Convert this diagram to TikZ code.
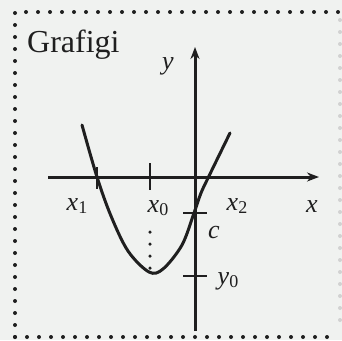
\documentclass[tikz,border=0pt]{standalone}
\usepackage{fontspec}
\setmainfont{Liberation Serif}
\usetikzlibrary{arrows.meta}
\definecolor{ink}{rgb}{0.12,0.12,0.12}
\definecolor{paper}{rgb}{0.94,0.95,0.94}
\newcommand{\sublab}[2]{\textit{#1}\raisebox{-3pt}{\fontsize{18}{18}\selectfont #2}}
\begin{document}
\begin{tikzpicture}[x=1pt,y=-1pt,
  framedots/.style={draw=ink,line width=4pt,line cap=round,dash pattern=on 0pt off 12pt},
  axis/.style={draw=ink,line width=3pt,-{Stealth[length=12pt,width=9pt]}},
  tickmark/.style={draw=ink,line width=2.4pt},
  curve/.style={draw=ink,line width=3pt,line cap=round},
  lab/.style={text=ink,inner sep=0pt,font=\fontsize{26}{26}\selectfont}]
\fill[paper] (0,0) rectangle (342,340);
\useasboundingbox (0,0) rectangle (342,340);
% frame
\draw[framedots] (15,337) -- (15,12) -- (338,12);
\draw[framedots] (15,337) -- (338,337);
\draw[framedots,draw=ink!20] (340,20) -- (340,330);
% title
\node[lab,font=\fontsize{32}{32}\selectfont,anchor=west] (title) at (27,45) {Grafigi};
% axes
\coordinate (xs) at (48,177);
\coordinate (xe) at (319,177);
\coordinate (ys) at (195,331);
\coordinate (ye) at (195,47);
\draw[axis] (xs) -- (xe);
\draw[axis] (ys) -- (ye);
\node[lab] (ylab) at (168,66) {\textit{y}};
\node[lab] (xlab) at (312,207) {\textit{x}};
% ticks
\coordinate (t1a) at (97,167); \coordinate (t1b) at (97,189);
\coordinate (t0a) at (150,163); \coordinate (t0b) at (150,190);
\coordinate (tca) at (183,213); \coordinate (tcb) at (207,213);
\coordinate (tya) at (183,276); \coordinate (tyb) at (207,276);
\draw[tickmark] (t1a) -- (t1b);
\draw[tickmark] (t0a) -- (t0b);
\draw[tickmark] (tca) -- (tcb);
\draw[tickmark] (tya) -- (tyb);
% labels
\node[lab] (x1) at (77,206) {\sublab{x}{1}};
\node[lab] (x0) at (158,208) {\sublab{x}{0}};
\node[lab] (x2) at (237,206) {\sublab{x}{2}};
\node[lab] (c) at (214,232) {\textit{c}};
\node[lab] (y0) at (228,281) {\sublab{y}{0}};
% dotted line from x0 to vertex
\coordinate (d1) at (150,232);
\coordinate (vtx) at (150,268);
\draw[ink,line width=3.5pt,line cap=round,dash pattern=on 0pt off 12pt] (d1) -- (vtx);
% parabola
\draw[curve] plot[smooth,tension=0.55] coordinates
  {(82,125) (97,177) (111,216) (128,251) (149,272) (163,269) (182,245) (194,213) (201,193) (209,176) (230,133)};
\end{tikzpicture}
\end{document}
